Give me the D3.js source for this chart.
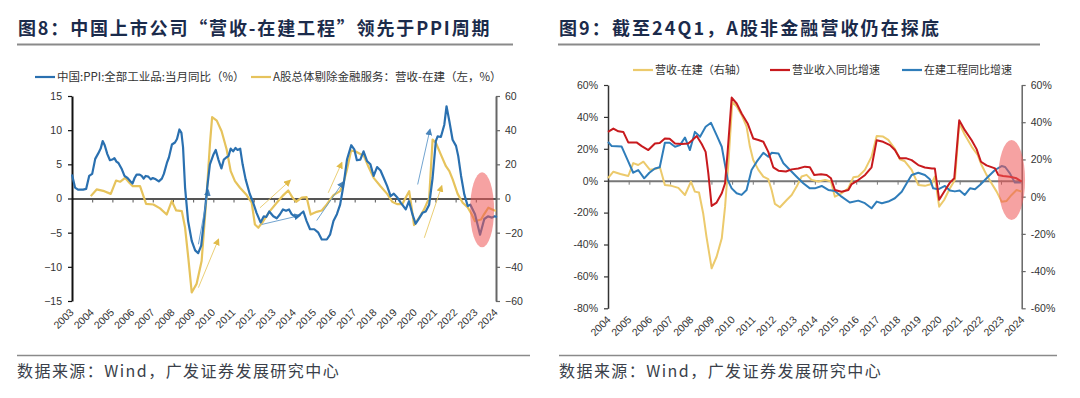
<!DOCTYPE html>
<html><head><meta charset="utf-8">
<script src="https://cdn.jsdelivr.net/npm/d3@7"></script>
<style>
body{margin:0;background:#fff;}
svg{display:block;}
.num{font-family:"Liberation Sans",Arial,sans-serif;}
.cjk{font-family:"Noto Sans CJK SC","Noto Sans",sans-serif;}
</style></head><body>
<svg id="c" width="1080" height="398"></svg>
<script>
// ---------- DATA ----------
// Figure 8
const fig8Title = "图8：中国上市公司“营收-在建工程”领先于PPI周期";
const fig8Years = d3.range(2003, 2025);
const fig8LeftTicks = [15, 10, 5, 0, -5, -10, -15];
const fig8RightTicks = [60, 40, 20, 0, -20, -40, -60];
const fig8Names = ["中国:PPI:全部工业品:当月同比（%）", "A股总体剔除金融服务：营收-在建（左，%）"];
// PPI monthly y/y, [year, %] (left axis)
const ppi = [[2003.0,3.5],[2003.15,1.6],[2003.3,1.3],[2003.55,1.3],[2003.7,1.4],[2003.85,3.3],[2004.0,3.6],[2004.15,5.8],[2004.3,6.6],[2004.42,7.3],[2004.52,8.4],[2004.62,7.8],[2004.75,6.5],[2004.88,5.6],[2005.0,5.7],[2005.1,5.9],[2005.2,5.4],[2005.3,5.2],[2005.45,4.4],[2005.6,3.3],[2005.75,3.0],[2005.9,2.5],[2006.0,2.2],[2006.1,3.0],[2006.2,3.5],[2006.35,3.5],[2006.45,3.3],[2006.55,2.9],[2006.65,3.3],[2006.78,3.2],[2006.9,2.8],[2007.0,3.0],[2007.15,2.8],[2007.3,2.5],[2007.45,2.9],[2007.55,3.6],[2007.7,5.2],[2007.8,6.0],[2007.95,7.9],[2008.1,8.2],[2008.2,8.7],[2008.32,10.1],[2008.42,9.6],[2008.5,7.5],[2008.6,1.6],[2008.75,-3.3],[2008.93,-6.2],[2009.1,-7.6],[2009.25,-8.0],[2009.4,-6.9],[2009.55,-2.8],[2009.7,1.7],[2009.83,5.0],[2010.0,6.4],[2010.12,7.1],[2010.25,5.7],[2010.4,4.4],[2010.52,5.7],[2010.64,6.0],[2010.75,6.2],[2010.86,7.3],[2010.98,6.9],[2011.1,7.4],[2011.2,7.1],[2011.33,7.3],[2011.45,5.0],[2011.6,2.8],[2011.8,0.7],[2011.95,-0.4],[2012.14,-2.1],[2012.34,-3.5],[2012.5,-2.6],[2012.62,-2.7],[2012.77,-1.9],[2012.97,-2.6],[2013.14,-2.9],[2013.3,-2.3],[2013.45,-1.6],[2013.6,-1.8],[2013.75,-1.6],[2013.88,-2.3],[2014.1,-2.8],[2014.3,-2.3],[2014.46,-1.9],[2014.62,-3.3],[2014.79,-4.5],[2015.0,-4.5],[2015.2,-5.0],[2015.37,-6.0],[2015.62,-6.0],[2015.78,-5.3],[2015.95,-3.3],[2016.12,-2.3],[2016.28,-0.9],[2016.45,2.0],[2016.62,5.7],[2016.83,7.8],[2016.98,7.2],[2017.11,5.6],[2017.28,5.7],[2017.44,6.9],[2017.61,5.5],[2017.78,5.0],[2017.94,3.3],[2018.11,4.6],[2018.28,4.1],[2018.44,3.0],[2018.61,1.8],[2018.78,0.35],[2018.94,0.7],[2019.1,0.2],[2019.28,-0.6],[2019.53,-1.6],[2019.69,-0.4],[2019.86,-2.3],[2020.02,-3.7],[2020.19,-2.9],[2020.36,-2.1],[2020.52,-1.9],[2020.69,-0.9],[2020.86,3.0],[2021.02,8.4],[2021.11,9.1],[2021.27,9.0],[2021.44,10.8],[2021.55,13.5],[2021.69,11.3],[2021.85,8.6],[2022.02,7.7],[2022.13,6.2],[2022.27,3.3],[2022.43,0.6],[2022.6,-1.1],[2022.73,-0.9],[2022.96,-2.3],[2023.21,-5.3],[2023.42,-3.0],[2023.6,-2.6],[2023.8,-2.8],[2023.93,-2.6],[2024.05,-2.7]];
// A-share ex-financials: revenue growth minus CIP growth, [year, %] (right axis)
const revMinusCipA = [[2003.93,1.4],[2004.22,5.3],[2004.6,4.3],[2004.92,2.7],[2005.18,10.5],[2005.38,9.8],[2005.63,12.1],[2005.84,9.2],[2006.01,7.2],[2006.37,7.2],[2006.67,-3.1],[2007.03,-3.5],[2007.36,-5.8],[2007.69,-9.4],[2007.94,-1.5],[2008.16,-7.0],[2008.44,-7.4],[2008.6,-17],[2008.76,-34.7],[2008.93,-55],[2009.17,-50],[2009.42,-36.6],[2009.67,2.3],[2009.83,31.6],[2009.94,47.6],[2010.17,45.6],[2010.41,39.4],[2010.66,28.7],[2010.86,16],[2011.07,10.2],[2011.32,6.3],[2011.65,2.0],[2011.9,-2.5],[2012.06,-15.2],[2012.23,-17.1],[2012.47,-13.3],[2012.8,-7.4],[2013.14,-2.5],[2013.47,2.0],[2013.71,4.7],[2013.93,0.4],[2014.1,-1.9],[2014.38,0.5],[2014.62,0.8],[2014.82,-9.4],[2015.12,-7.8],[2015.37,-7.0],[2015.62,-3.5],[2015.95,2.0],[2016.28,4.3],[2016.45,9.2],[2016.62,17],[2016.82,28],[2017.05,27.5],[2017.28,26],[2017.44,25.4],[2017.69,18.4],[2017.94,12.1],[2018.28,7.2],[2018.61,2.7],[2018.86,-1.9],[2019.1,-3.3],[2019.36,-3.3],[2019.57,1.4],[2019.7,4.3],[2019.86,-8.4],[2019.94,-15.6],[2020.19,-11.3],[2020.44,-6.4],[2020.69,0.4],[2020.86,34.5],[2021.02,32.6],[2021.27,25.7],[2021.52,18.9],[2021.69,16],[2021.85,11.3],[2022.1,2.7],[2022.35,-2.5],[2022.6,-5.2],[2022.8,-9.4],[2022.96,-13.3],[2023.26,-12.3],[2023.4,-9.4],[2023.62,-5.4],[2023.93,-7],[2024.0,-7.2]];
// annotation arrows, [year, left-axis value] from -> to
const fig8Arrows = [
  {s:"ppi", from:[2009.26,-6.7], to:[2009.75,1.2]},
  {s:"rev", from:[2009.26,-13.05], to:[2010.25,-6.0]},
  {s:"rev", from:[2012.31,-1.36], to:[2013.8,2.63]},
  {s:"ppi", from:[2012.4,-3.8], to:[2014.29,-2.49]},
  {s:"rev", from:[2015.69,0.83], to:[2016.36,5.22]},
  {s:"ppi", from:[2015.12,-3.22], to:[2016.43,2.4]},
  {s:"ppi", from:[2020.12,2.05], to:[2020.73,10.09]},
  {s:"rev", from:[2020.45,-5.75], to:[2021.31,1.81]}
];
const fig8Highlight = [2023.31, -1.65];

// Figure 9
const fig9Title = "图9：截至24Q1，A股非金融营收仍在探底";
const fig9Years = d3.range(2004, 2025);
const fig9LeftTicks = [60, 40, 20, 0, -20, -40, -60, -80];
const fig9RightTicks = [60, 40, 20, 0, -20, -40, -60];
const fig9Names = ["营收-在建（右轴）", "营业收入同比增速", "在建工程同比增速"];
const revMinusCip = [[2004.0,9.9],[2004.26,13.4],[2004.6,12.2],[2004.98,11.1],[2005.22,18],[2005.46,17],[2005.71,18.8],[2006.03,14.4],[2006.27,14.8],[2006.51,15.8],[2006.75,6.3],[2007.07,5.8],[2007.4,4.7],[2007.72,0.9],[2008.01,8.1],[2008.2,2.7],[2008.4,2.2],[2008.6,-8.9],[2008.76,-21.5],[2009.01,-38.5],[2009.25,-32.3],[2009.5,-22.4],[2009.66,-5.4],[2009.82,18],[2010.01,51],[2010.22,48.4],[2010.46,43.9],[2010.7,37.6],[2010.86,26.9],[2011.02,19.7],[2011.27,14.4],[2011.51,10.8],[2011.75,9.4],[2011.91,3.6],[2012.07,-3.9],[2012.31,-5.7],[2012.64,-1.8],[2012.88,0.9],[2013.12,5.4],[2013.36,10.8],[2013.6,11.7],[2013.84,9],[2014.17,8.1],[2014.5,9],[2014.78,8.1],[2014.97,0],[2015.29,1.8],[2015.62,4.5],[2015.86,10.4],[2016.1,10.8],[2016.42,14.4],[2016.74,21.5],[2016.99,32.6],[2017.3,32.3],[2017.55,30.5],[2017.87,25.7],[2018.11,20.1],[2018.35,19],[2018.68,14.4],[2019.0,6.3],[2019.32,5.8],[2019.64,6.8],[2019.8,10.8],[2020.01,-5.4],[2020.25,-1.8],[2020.53,4.5],[2020.77,9],[2020.98,39.5],[2021.25,33.2],[2021.58,26.9],[2021.87,22.4],[2022.06,17],[2022.3,11.7],[2022.54,7.2],[2022.79,2.7],[2023.03,-2.7],[2023.27,-2.3],[2023.51,0.9],[2023.75,3.6],[2024.0,2.7]];
const revenueGrowth = [[2004.0,30.6],[2004.26,32.7],[2004.5,31],[2004.74,30.6],[2004.98,24],[2005.38,24],[2005.63,21.7],[2005.95,19.2],[2006.27,23.3],[2006.5,23.6],[2006.75,26.5],[2006.98,26.3],[2007.24,23.3],[2007.56,23],[2007.88,23.3],[2008.07,25.4],[2008.29,28],[2008.53,23],[2008.72,18.1],[2008.85,4.6],[2009.01,-15.8],[2009.25,-13.7],[2009.5,-7.9],[2009.66,-1.6],[2009.79,19.2],[2009.98,52.1],[2010.22,48.4],[2010.46,42.1],[2010.75,35.9],[2011.02,26.5],[2011.27,25.5],[2011.51,24.4],[2011.75,18.1],[2011.99,8.4],[2012.24,6.3],[2012.6,5.8],[2012.88,7.1],[2013.2,7.6],[2013.52,8.8],[2013.76,8.5],[2013.97,3.6],[2014.3,4.0],[2014.57,3.6],[2014.78,1.5],[2014.97,-5.8],[2015.29,-6.9],[2015.62,-5.8],[2015.78,-2.1],[2016.1,0.4],[2016.43,3.6],[2016.74,8.4],[2016.99,25.4],[2017.3,24.4],[2017.63,22.3],[2017.87,19.2],[2018.11,14],[2018.43,14],[2018.68,12.9],[2019.0,9.8],[2019.32,8.3],[2019.66,7.7],[2019.8,7.7],[2020.01,-12],[2020.25,-6.9],[2020.53,-1.2],[2020.74,1.5],[2020.98,37.9],[2021.25,31.7],[2021.58,25.4],[2021.82,19.8],[2022.03,11.9],[2022.3,9.6],[2022.71,7.7],[2022.87,3.6],[2023.1,3.0],[2023.43,2.5],[2023.75,1.5],[2024.0,-0.6]];
const cipGrowth = [[2004.0,24.4],[2004.18,21.7],[2004.66,21.4],[2004.95,12.9],[2005.22,5.0],[2005.46,6.7],[2005.75,1.5],[2006.0,5.0],[2006.27,7.7],[2006.5,8.4],[2006.75,23.8],[2006.98,23.8],[2007.24,21.3],[2007.48,22.3],[2007.72,27.1],[2007.96,19.2],[2008.2,30.6],[2008.45,27.5],[2008.72,33.8],[2008.98,36.3],[2009.25,28.6],[2009.5,21.3],[2009.66,9.8],[2009.79,0.4],[2009.98,-4.8],[2010.22,-7.9],[2010.46,-8.9],[2010.7,-5.8],[2010.94,6.7],[2011.19,11.9],[2011.51,17.5],[2011.75,15],[2011.91,17.5],[2012.24,17.1],[2012.48,10.9],[2012.8,6.7],[2013.12,2.5],[2013.44,-1.6],[2013.76,-4.8],[2014.0,-4.8],[2014.33,-3.3],[2014.65,-5.8],[2014.97,-6.5],[2015.29,-10],[2015.69,-13.7],[2016.1,-12.5],[2016.42,-14.1],[2016.74,-17.3],[2016.99,-13.1],[2017.24,-14.1],[2017.55,-13.1],[2017.87,-11],[2018.2,-6.9],[2018.44,-1.6],[2018.68,3.6],[2019.0,5.0],[2019.32,3.6],[2019.56,0.9],[2019.72,-4.8],[2019.96,-5.4],[2020.29,-3.3],[2020.53,-6.1],[2020.77,-6.7],[2021.0,-6.1],[2021.25,-8.9],[2021.5,-4.8],[2021.74,-5.4],[2021.98,-2.7],[2022.22,0.4],[2022.46,3.6],[2022.71,6.7],[2023.03,9.2],[2023.2,8.6],[2023.43,4.6],[2023.67,-1.2],[2023.96,-1.2]];
const fig9Highlight = [2023.51, 0.4];
const sourceText = "数据来源：Wind，广发证券发展研究中心";

// ---------- STYLE ----------
const C = {blue:"#2a70b0", yellow:"#e6c35c", yellow9:"#ecca6c", red:"#c81a1e", blue9:"#2f7dba",
  title:"#1b2b4b", rule:"#8a8a8a", text:"#333", axis:"#555", ell:"#ef5555"};

const svg = d3.select("#c");
const defs = svg.append("defs");
[["ahBlue", C.blue], ["ahYellow", "#dcb02a"]].forEach(([id, col]) => {
  defs.append("marker").attr("id", id).attr("viewBox", "0 0 10 10").attr("refX", 8).attr("refY", 5)
    .attr("markerWidth", 7).attr("markerHeight", 7).attr("orient", "auto-start-reverse")
    .attr("markerUnits", "userSpaceOnUse")
    .append("path").attr("d", "M0,0 L10,5 L0,10 z").attr("fill", col);
});

function header(x0, x1, title, ls) {
  svg.append("text").attr("class", "cjk").attr("x", x0 + 1).attr("y", 35)
    .attr("font-size", 18).attr("font-weight", "bold").attr("fill", C.title)
    .attr("letter-spacing", ls).text(title);
  svg.append("line").attr("x1", x0).attr("x2", x1).attr("y1", 44.5).attr("y2", 44.5)
    .attr("stroke", C.rule).attr("stroke-width", 2);
}
function footer(x0, x1) {
  svg.append("line").attr("x1", x0).attr("x2", x1).attr("y1", 355.5).attr("y2", 355.5)
    .attr("stroke", C.rule).attr("stroke-width", 1.5);
  svg.append("text").attr("class", "cjk").attr("x", x0).attr("y", 377)
    .attr("font-size", 16).attr("letter-spacing", 1.45).attr("fill", "#3a3f4a").text(sourceText);
}
function legendItem(x, y, col, label, len, fs) {
  svg.append("line").attr("x1", x).attr("x2", x + len).attr("y1", y).attr("y2", y)
    .attr("stroke", col).attr("stroke-width", 2.2);
  svg.append("text").attr("class", "cjk").attr("x", x + len + 2).attr("y", y + 4)
    .attr("font-size", fs).attr("fill", C.text).text(label);
}
function styleAxis(g, col, w) {
  g.select(".domain").attr("stroke", col).attr("stroke-width", w);
  g.selectAll(".tick line").attr("stroke", col).attr("stroke-width", 1.2);
  g.selectAll(".tick text").attr("class", "num").attr("font-size", 10.5).attr("fill", C.text);
}

// ---------- FIGURE 8 ----------
{
  const x = d3.scaleLinear().domain([2003, 2024]).range([72, 496]);
  const yL = d3.scaleLinear().domain([-15, 15]).range([301, 96]);
  const yR = d3.scaleLinear().domain([-60, 60]).range([301, 96]);
  header(17, 513, fig8Title, 1.85);
  footer(17, 530);
  legendItem(35, 77, C.blue, fig8Names[0], 20, 11.5);
  legendItem(251, 77, C.yellow, fig8Names[1], 20, 11.5);

  const gz = svg.append("g").attr("transform", `translate(0,${yL(0)})`)
    .call(d3.axisBottom(x).tickValues(fig8Years).tickSize(4).tickSizeOuter(0).tickFormat(""));
  gz.select(".domain").attr("stroke", "#555").attr("stroke-width", 2);
  gz.selectAll(".tick line").attr("stroke", "#555");
  const gb = svg.append("g").attr("transform", `translate(0,${yL(-15)})`)
    .call(d3.axisBottom(x).tickValues(fig8Years).tickSize(0).tickFormat(d3.format("d")));
  gb.select(".domain").remove();
  gb.selectAll(".tick text").attr("class", "num").attr("font-size", 10.5).attr("fill", C.text)
    .attr("text-anchor", "end").attr("transform", "translate(2,12) rotate(-45)").attr("dy", 0).attr("y", 0);

  const gl = svg.append("g").attr("transform", "translate(72,0)")
    .call(d3.axisLeft(yL).tickValues(fig8LeftTicks).tickSize(4).tickSizeOuter(0).tickPadding(6));
  styleAxis(gl, "#111", 2);
  const gr = svg.append("g").attr("transform", "translate(496,0)")
    .call(d3.axisRight(yR).tickValues(fig8RightTicks).tickSize(4).tickSizeOuter(0).tickPadding(5));
  styleAxis(gr, "#666", 2);

  const lnL = d3.line().x(d => x(d[0])).y(d => yL(d[1]));
  const lnR = d3.line().x(d => x(d[0])).y(d => yR(d[1]));
  svg.append("path").attr("d", lnR(revMinusCipA)).attr("fill", "none")
    .attr("stroke", C.yellow).attr("stroke-width", 2.2).attr("stroke-linejoin", "round");
  svg.append("path").attr("d", lnL(ppi)).attr("fill", "none")
    .attr("stroke", C.blue).attr("stroke-width", 2.2).attr("stroke-linejoin", "round");

  fig8Arrows.forEach(a => {
    const isP = a.s === "ppi";
    svg.append("line").attr("x1", x(a.from[0])).attr("y1", yL(a.from[1]))
      .attr("x2", x(a.to[0])).attr("y2", yL(a.to[1]))
      .attr("stroke", isP ? "#5a95c8" : "#e8c860").attr("stroke-width", 1).attr("opacity", 0.85)
      .attr("marker-end", `url(#${isP ? "ahBlue" : "ahYellow"})`);
  });

  svg.append("ellipse").attr("cx", x(fig8Highlight[0])).attr("cy", yL(fig8Highlight[1]))
    .attr("rx", 12).attr("ry", 37.5).attr("fill", C.ell).attr("opacity", 0.55);
}

// ---------- FIGURE 9 ----------
{
  const x = d3.scaleLinear().domain([2004, 2024]).range([608, 1021.7]);
  const yL = d3.scaleLinear().domain([-80, 60]).range([308.3, 85]);
  const yR = d3.scaleLinear().domain([-60, 60]).range([308.3, 85]);
  header(558, 1040, fig9Title, 2.1);
  footer(559, 1057);
  legendItem(633, 70, C.yellow9, fig9Names[0], 20, 11);
  legendItem(770, 70, C.red, fig9Names[1], 20, 11);
  legendItem(902, 70, C.blue9, fig9Names[2], 20, 11);

  const gz = svg.append("g").attr("transform", `translate(0,${yL(0)})`)
    .call(d3.axisBottom(x).tickValues(fig9Years).tickSize(4).tickSizeOuter(0).tickFormat(""));
  gz.select(".domain").attr("stroke", "#777").attr("stroke-width", 2);
  gz.selectAll(".tick line").attr("stroke", "#777");
  const gb = svg.append("g").attr("transform", `translate(0,${yL(-80)})`)
    .call(d3.axisBottom(x).tickValues(fig9Years).tickSize(0).tickFormat(d3.format("d")));
  gb.select(".domain").remove();
  gb.selectAll(".tick text").attr("class", "num").attr("font-size", 10.5).attr("fill", C.text)
    .attr("text-anchor", "end").attr("transform", "translate(3,12) rotate(-45)").attr("dy", 0).attr("y", 0);

  const pct = d => d + "%";
  const gl = svg.append("g").attr("transform", "translate(608,0)")
    .call(d3.axisLeft(yL).tickValues(fig9LeftTicks).tickSize(4).tickSizeOuter(0).tickPadding(6).tickFormat(pct));
  styleAxis(gl, "#333", 1.5);
  const gr = svg.append("g").attr("transform", "translate(1021.7,0)")
    .call(d3.axisRight(yR).tickValues(fig9RightTicks).tickSize(4).tickSizeOuter(0).tickPadding(5).tickFormat(pct));
  styleAxis(gr, "#666", 1.5);

  const lnL = d3.line().x(d => x(d[0])).y(d => yL(d[1]));
  const lnR = d3.line().x(d => x(d[0])).y(d => yR(d[1]));
  svg.append("path").attr("d", lnR(revMinusCip)).attr("fill", "none")
    .attr("stroke", C.yellow9).attr("stroke-width", 2).attr("stroke-linejoin", "round");
  svg.append("path").attr("d", lnL(cipGrowth)).attr("fill", "none")
    .attr("stroke", C.blue9).attr("stroke-width", 2).attr("stroke-linejoin", "round");
  svg.append("path").attr("d", lnL(revenueGrowth)).attr("fill", "none")
    .attr("stroke", C.red).attr("stroke-width", 2).attr("stroke-linejoin", "round");

  svg.append("ellipse").attr("cx", x(fig9Highlight[0])).attr("cy", yL(fig9Highlight[1]))
    .attr("rx", 13.5).attr("ry", 40).attr("fill", C.ell).attr("opacity", 0.55);
}
</script>
</body></html>
